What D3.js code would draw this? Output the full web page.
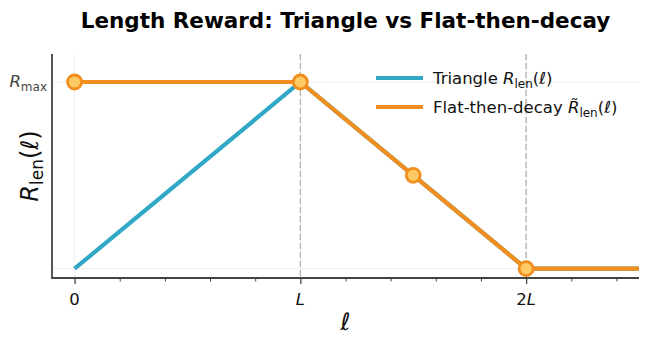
<!DOCTYPE html>
<html><head><meta charset="utf-8">
<script src="https://cdn.jsdelivr.net/npm/d3@7"></script>
<style>body{margin:0;background:#fff}svg{display:block;font-family:"DejaVu Sans",sans-serif}</style>
</head><body><svg id="c" width="648" height="341"></svg>
<script>
// ---- data ----
const xMajorTicks = [0, 1, 2];
const xTickLabels = ["0", "L", "2L"];
const xMinorTicks = [0.2,0.4,0.6,0.8,1.2,1.4,1.6,1.8,2.2,2.4];
const yTicks = [0, 1];
const triangleX = [0, 1, 2, 2.5];
const triangleY = [0, 1, 0, 0];
const flatX = [0, 1, 2, 2.5];
const flatY = [1, 1, 0, 0];
const markerX = [0, 1, 1.5, 2];
const markerY = [1, 1, 0.5, 0];
const dashedX = [1, 2];

const svg = d3.select("#c");
const M = {l:52, r:639, t:54, b:278};
const x = d3.scaleLinear().domain([-0.1, 2.5]).range([M.l, M.r]);
const y = d3.scaleLinear().domain([-0.05, 1.15]).range([M.b, M.t]);
const blue = "#31a8c6", orange = "#f28e1e", fillC = "#ffc965";

// grid
const g = svg.append("g");
g.selectAll(".hg").data(yTicks).join("line")
  .attr("x1", M.l).attr("x2", M.r).attr("y1", d=>y(d)).attr("y2", d=>y(d))
  .attr("stroke", "#ebebeb").attr("stroke-width", 0.8);
g.selectAll(".vg").data(xMajorTicks).join("line")
  .attr("x1", d=>x(d)).attr("x2", d=>x(d)).attr("y1", M.t).attr("y2", M.b)
  .attr("stroke", "#ebebeb").attr("stroke-width", 0.8);
// dashed verticals
g.selectAll(".dv").data(dashedX).join("line")
  .attr("x1", d=>x(d)).attr("x2", d=>x(d)).attr("y1", M.t).attr("y2", M.b)
  .attr("stroke", "#b5b5b5").attr("stroke-width", 1.4).attr("stroke-dasharray", "6,3");

// axes
const xAxis = d3.axisBottom(x).tickValues(xMajorTicks).tickFormat((d,i)=>"").tickSize(6).tickSizeOuter(0);
const xa = svg.append("g").attr("transform", `translate(0,${M.b})`).call(xAxis);
xa.select(".domain").attr("stroke", "#444").attr("stroke-width", 1.8).attr("d", `M${M.l},0H${M.r}`);
xa.selectAll(".tick line").attr("stroke", "#444").attr("stroke-width", 1.3);
const xm = d3.axisBottom(x).tickValues(xMinorTicks).tickFormat("").tickSize(3.5).tickSizeOuter(0);
const xma = svg.append("g").attr("transform", `translate(0,${M.b})`).call(xm);
xma.select(".domain").remove();
xma.selectAll(".tick line").attr("stroke", "#444").attr("stroke-width", 1);
// x tick labels
const xl = svg.append("g");
xTickLabels.forEach((t,i)=>{
  const tx = xl.append("text").attr("x", x(xMajorTicks[i])).attr("y", 305)
    .attr("text-anchor","middle").attr("font-size", 16.5).attr("fill","#111");
  if (t === "0") tx.text("0");
  else if (t === "L") tx.append("tspan").attr("font-style","italic").text("L");
  else { tx.append("tspan").text("2"); tx.append("tspan").attr("font-style","italic").text("L"); }
});
// y axis
svg.append("line").attr("x1", M.l).attr("x2", M.l).attr("y1", M.t).attr("y2", M.b+0.9)
  .attr("stroke", "#444").attr("stroke-width", 1.8);
// y tick label R_max
const yl = svg.append("text").attr("x", 47).attr("y", y(1)+5).attr("text-anchor","end")
  .attr("font-size", 16.5).attr("fill", "#444");
yl.append("tspan").attr("font-style","italic").text("R");
yl.append("tspan").attr("font-size", 12).attr("dy", 3.5).text("max");

// axis labels
const yLab = svg.append("text").attr("transform", `translate(38,${(M.t+M.b)/2}) rotate(-90)`)
  .attr("text-anchor","middle").attr("font-size", 24).attr("fill","#111");
yLab.append("tspan").attr("font-style","italic").text("R");
yLab.append("tspan").attr("font-size", 17).attr("dy", 5).text("len");
yLab.append("tspan").attr("dy", -5).text("(");
yLab.append("tspan").attr("font-style","italic").text("ℓ");
yLab.append("tspan").text(")");
svg.append("text").attr("x", (M.l+M.r)/2).attr("y", 330).attr("text-anchor","middle")
  .attr("font-size", 24).attr("font-style","italic").attr("fill","#111").text("ℓ");

// title
svg.append("text").attr("x", (M.l+M.r)/2).attr("y", 28).attr("text-anchor","middle")
  .attr("font-size", 21.5).attr("font-weight","bold").attr("fill","#000")
  .text("Length Reward: Triangle vs Flat-then-decay");

// lines
const line = d3.line().x(d=>x(d[0])).y(d=>y(d[1]));
svg.append("path").datum(triangleX.map((v,i)=>[v, triangleY[i]])).attr("d", line)
  .attr("fill","none").attr("stroke", blue).attr("stroke-width", 4.2);
svg.append("path").datum(flatX.map((v,i)=>[v, flatY[i]])).attr("d", line)
  .attr("fill","none").attr("stroke", orange).attr("stroke-width", 4.2).attr("stroke-linejoin","round");
svg.selectAll(".mk").data(markerX.map((v,i)=>[v, markerY[i]])).join("circle")
  .attr("cx", d=>x(d[0])).attr("cy", d=>y(d[1])).attr("r", 7)
  .attr("fill", fillC).attr("stroke", orange).attr("stroke-width", 2.8);

// legend
const lg = svg.append("g");
lg.append("line").attr("x1", 376).attr("x2", 423).attr("y1", 78).attr("y2", 78)
  .attr("stroke", blue).attr("stroke-width", 4.2);
lg.append("line").attr("x1", 376).attr("x2", 423).attr("y1", 107).attr("y2", 107)
  .attr("stroke", orange).attr("stroke-width", 4.2);
const t1 = lg.append("text").attr("x", 433).attr("y", 84).attr("font-size", 16.5).attr("fill","#111");
t1.append("tspan").text("Triangle ");
t1.append("tspan").attr("font-style","italic").text("R");
t1.append("tspan").attr("font-size", 12).attr("dy", 3.5).text("len");
t1.append("tspan").attr("dy", -3.5).text("(");
t1.append("tspan").attr("font-style","italic").text("ℓ");
t1.append("tspan").text(")");
const t2 = lg.append("text").attr("x", 433).attr("y", 113).attr("font-size", 16.5).attr("fill","#111");
t2.append("tspan").text("Flat-then-decay ");
t2.append("tspan").attr("font-style","italic").text("R\u0303");
t2.append("tspan").attr("font-size", 12).attr("dy", 3.5).text("len");
t2.append("tspan").attr("dy", -3.5).text("(");
t2.append("tspan").attr("font-style","italic").text("ℓ");
t2.append("tspan").text(")");
</script></body></html>
